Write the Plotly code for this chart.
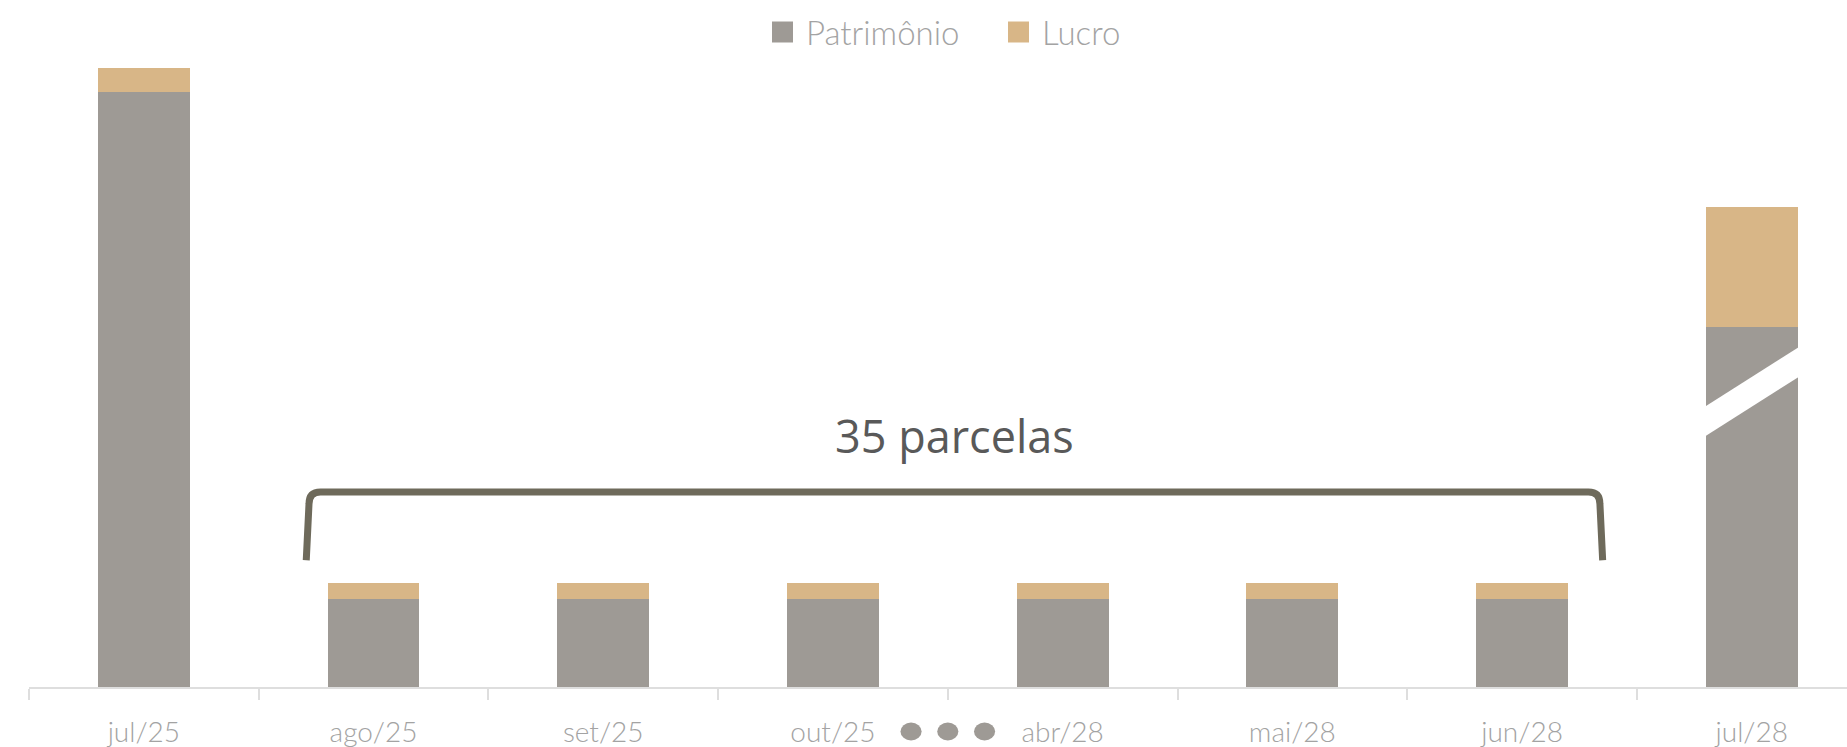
import plotly.graph_objects as go

# ---------------- data ----------------
categories = ["jul/25", "ago/25", "set/25", "out/25", "abr/28", "mai/28", "jun/28", "jul/28"]
patrimonio = [100.0, 14.8, 14.8, 14.8, 14.8, 14.8, 14.8, 60.5]
lucro = [4.0, 2.7, 2.7, 2.7, 2.7, 2.7, 2.7, 20.2]
series_names = ["Patrimônio", "Lucro"]
bracket_label = "35 parcelas"

# ---------------- style ----------------
GRAY = "#9e9a95"
TAN = "#d8b687"
BRACKET = "#6e6a5b"
AXIS = "#dedede"
TXT = "#a3a3a3"
W, H = 1847, 747
ML, MR, MT, MB = 29, 0, 50, 60
PW, PH = W - ML - MR, H - MT - MB
CAT_W = 229.7
X_RANGE = [-0.5, -0.5 + PW / CAT_W]
PX_PER_UNIT = 5.95
Y_RANGE = [0, PH / PX_PER_UNIT]

fig = go.Figure()
fig.add_bar(x=categories, y=patrimonio, name=series_names[0], marker_color=GRAY,
            marker_line_width=0, showlegend=False)
fig.add_bar(x=categories, y=lucro, name=series_names[1], marker_color=TAN,
            marker_line_width=0, showlegend=False)

# invisible linear axis overlaying the category axis (for annotations/shapes)
fig.add_scatter(x=[X_RANGE[0]], y=[0], xaxis="x2", mode="markers",
                marker=dict(opacity=0), showlegend=False, hoverinfo="skip")

shapes = []
annotations = []

# axis break on last bar
last = len(categories) - 1
bw = 0.2  # half bar width in category units (bargap 0.6)
ext = 0.03
slope = 24.5
y_top_l, y_bot_l = 47.2, 42.2
x0, x1 = last - bw - ext, last + bw + ext
yt0 = y_top_l - slope * ext
yb0 = y_bot_l - slope * ext
yt1 = yt0 + slope * (x1 - x0)
yb1 = yb0 + slope * (x1 - x0)
shapes.append(dict(type="path", xref="x2", yref="y",
                   path=f"M{x0},{yb0} L{x0},{yt0} L{x1},{yt1} L{x1},{yb1} Z",
                   fillcolor="white", line=dict(width=0), layer="above"))

# bracket over the installments
bx0, bx1 = 0.719, 6.339
by_top, by_bot = 32.77, 21.3
rx, ry = 0.05, 2.0
path = (f"M{bx0 - 0.012},{by_bot} L{bx0},{by_top - ry} Q{bx0},{by_top} {bx0 + rx},{by_top} "
        f"L{bx1 - rx},{by_top} Q{bx1},{by_top} {bx1},{by_top - ry} L{bx1 + 0.012},{by_bot}")
shapes.append(dict(type="path", xref="x2", yref="y", path=path,
                   line=dict(color=BRACKET, width=7), layer="above"))
annotations.append(dict(xref="x2", yref="y", x=(bx0 + bx1) / 2, y=42.3, text=bracket_label,
                        showarrow=False, xanchor="center", yanchor="middle",
                        font=dict(family="Open Sans", size=45, color="#595959")))

# ellipsis dots between out/25 and abr/28
dot_y = (H - MB - 731.5) / PH  # paper
for k in (-1, 0, 1):
    cx = 3.5 + k * 0.16
    shapes.append(dict(type="circle", xref="x2", yref="paper",
                       x0=cx - 0.046, x1=cx + 0.046, y0=dot_y - 9 / PH, y1=dot_y + 9 / PH,
                       fillcolor=GRAY, line=dict(width=0)))

# manual legend
leg_colors = [GRAY, TAN]
leg_sq_x = [772, 1008]
leg_y = (H - MB - 32) / PH
for name, col, sx in zip(series_names, leg_colors, leg_sq_x):
    shapes.append(dict(type="rect", xref="paper", yref="paper",
                       x0=(sx - ML) / PW, x1=(sx + 21 - ML) / PW,
                       y0=leg_y - 10.5 / PH, y1=leg_y + 10.5 / PH,
                       fillcolor=col, line=dict(width=0)))
    annotations.append(dict(xref="paper", yref="paper", x=(sx + 32 - ML) / PW, y=leg_y,
                            text=name, showarrow=False, xanchor="left", yanchor="middle",
                            font=dict(family="Lato", size=33, color=TXT, weight=300)))

fig.update_layout(
    width=W, height=H, autosize=False,
    margin=dict(l=ML, r=MR, t=MT, b=MB, pad=0),
    paper_bgcolor="white", plot_bgcolor="white",
    barmode="stack", bargap=0.6,
    xaxis=dict(type="category", range=X_RANGE, tickson="boundaries", ticks="outside",
               ticklen=11, tickwidth=2, tickcolor=AXIS, showline=True, linecolor=AXIS,
               linewidth=2, showgrid=False, zeroline=False, ticklabelstandoff=19,
               tickfont=dict(family="Lato", size=28, color=TXT, weight=300), fixedrange=True),
    xaxis2=dict(type="linear", range=X_RANGE, overlaying="x", visible=False),
    yaxis=dict(range=Y_RANGE, visible=False, showgrid=False, zeroline=False),
    shapes=shapes, annotations=annotations,
)

fig.write_html("out.html", config={"displayModeBar": False},
               post_script="document.body.style.margin='0px';document.body.style.overflow='hidden';")
